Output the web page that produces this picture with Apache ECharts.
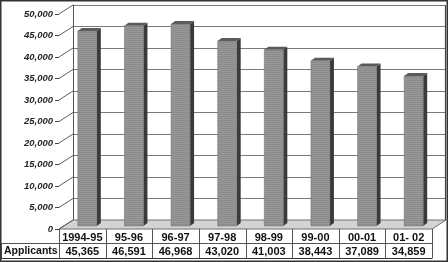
<!DOCTYPE html>
<html>
<head>
<meta charset="utf-8">
<script src="https://cdn.jsdelivr.net/npm/echarts@6/dist/echarts.min.js"></script>
<style>
  html, body { margin: 0; padding: 0; background: #fff; }
  #chart { width: 448px; height: 262px; }
</style>
</head>
<body>
<div id="chart"></div>
<script>
// 数据
const categories = ['1994-95', '95-96', '96-97', '97-98', '98-99', '99-00', '00-01', '01- 02'];
const applicants = [45365, 46591, 46968, 43020, 41003, 38443, 37089, 34859];
const rowLabel = 'Applicants';
const yMin = 0;
const yMax = 50000;
const yStep = 5000;
const yTicks = [0, 5000, 10000, 15000, 20000, 25000, 30000, 35000, 40000, 45000, 50000];

const fmt = v => v.toLocaleString('en-US');

// 3d depth of the wall / bars
const DX = 14, DY = 9;
const BAR_W = 19, BAR_DX = 4, BAR_DY = 3, BAR_SHIFT_X = 5, BAR_SHIFT_Y = 3;

// striped fill for the bar fronts
const pat = document.createElement('canvas');
pat.width = 2; pat.height = 2;
const pctx = pat.getContext('2d');
pctx.fillStyle = '#8c8c8c'; pctx.fillRect(0, 0, 2, 2);
pctx.fillStyle = '#979797'; pctx.fillRect(0, 1, 2, 1);

const chart = echarts.init(document.getElementById('chart'), null, { renderer: 'canvas' });

const lineStyle = { stroke: '#555', lineWidth: 1 };
const textFont = { fontFamily: 'Liberation Sans, Arial, sans-serif', fontWeight: 'bold', fontSize: 11, color: '#111' };

const option = {
  animation: false,
  grid: [
    { left: 59, right: 16, top: 14, bottom: 33 },   // front plane
    { left: 73, right: 2, top: 5, bottom: 42 }      // back wall
  ],
  xAxis: [
    {
      type: 'category', gridIndex: 0, data: categories,
      axisLine: { show: false }, axisTick: { show: false },
      axisLabel: { margin: 3, interval: 0, ...textFont }
    },
    {
      type: 'category', gridIndex: 0, data: applicants.map(fmt),
      position: 'bottom', offset: 14,
      axisLine: { show: false }, axisTick: { show: false },
      axisLabel: { margin: 3, interval: 0, ...textFont }
    },
    { type: 'value', gridIndex: 1, show: false, min: 0, max: 1 }
  ],
  yAxis: [
    {
      type: 'value', gridIndex: 0, min: yMin, max: yMax, interval: yStep,
      axisLine: { show: false },
      axisTick: { show: true, length: 4, lineStyle: { color: '#444' } },
      splitLine: { show: false },
      axisLabel: {
        margin: 6, formatter: v => fmt(v),
        fontFamily: 'Liberation Sans, Arial, sans-serif', fontWeight: 'bold',
        fontStyle: 'italic', fontSize: 9.5, color: '#222'
      }
    },
    {
      type: 'value', gridIndex: 1, min: yMin, max: yMax, interval: yStep,
      axisLine: { show: true, lineStyle: { color: '#555' } },
      axisTick: { show: false }, axisLabel: { show: false },
      splitLine: { show: true, lineStyle: { color: '#7a7a7a', width: 1 } }
    }
  ],
  series: [
    // floor, wall edges and data table lines
    {
      type: 'custom', xAxisIndex: 0, yAxisIndex: 0, data: [0], silent: true, z: 1,
      renderItem(params, api) {
        const cs = params.coordSys;
        const x0 = cs.x, x1 = cs.x + cs.width, yb = cs.y + cs.height, yt = cs.y;
        const band = api.size([1, 0])[0];
        const kids = [
          { type: 'polygon', shape: { points: [[x0, yb], [x1, yb], [x1 + DX, yb - DY], [x0 + DX, yb - DY]] },
            style: { fill: '#d4d4d4', stroke: '#6e6e6e', lineWidth: 1 } },
          { type: 'line', shape: { x1: x1 + DX - 0.5, y1: yt - DY, x2: x1 + DX - 0.5, y2: yb - DY }, style: { stroke: '#444', lineWidth: 1.2 } }
        ];
        const r1 = yb + 14.5, r2 = yb + 29.5;
        kids.push({ type: 'line', shape: { x1: 1, y1: r1, x2: x1, y2: r1 }, style: lineStyle });
        kids.push({ type: 'line', shape: { x1: 1, y1: r2, x2: x1, y2: r2 }, style: { stroke: '#333', lineWidth: 1.2 } });
        kids.push({ type: 'line', shape: { x1: 1.5, y1: r1, x2: 1.5, y2: r2 }, style: lineStyle });
        for (let i = 0; i <= categories.length; i++) {
          const x = Math.round(x0 + i * band) + 0.5;
          kids.push({ type: 'line', shape: { x1: x, y1: yb, x2: x, y2: r2 }, style: lineStyle });
        }
        return { type: 'group', children: kids };
      }
    },
    // side wall diagonals
    {
      type: 'custom', xAxisIndex: 0, yAxisIndex: 0, data: yTicks, silent: true, z: 2,
      renderItem(params, api) {
        const cs = params.coordSys;
        const y = api.coord([0, api.value(0)])[1];
        return { type: 'line', shape: { x1: cs.x, y1: y, x2: cs.x + DX, y2: y - DY },
          style: { stroke: '#5e5e5e', lineWidth: 1 } };
      },
      encode: { y: 0 }
    },
    // 3d bars
    {
      type: 'custom', xAxisIndex: 0, yAxisIndex: 0, z: 5,
      data: applicants.map((v, i) => [i, v]),
      encode: { x: 0, y: 1 },
      renderItem(params, api) {
        const top = api.coord([api.value(0), api.value(1)]);
        const base = api.coord([api.value(0), 0]);
        const x = top[0] + BAR_SHIFT_X - BAR_W / 2;
        const yt = top[1] - BAR_SHIFT_Y, yb = base[1] - BAR_SHIFT_Y;
        return {
          type: 'group',
          children: [
            { type: 'polygon', shape: { points: [[x + BAR_W, yt], [x + BAR_W + BAR_DX, yt - BAR_DY], [x + BAR_W + BAR_DX, yb - BAR_DY], [x + BAR_W, yb]] },
              style: { fill: '#3a3a3a' } },
            { type: 'polygon', shape: { points: [[x, yt], [x + BAR_DX, yt - BAR_DY], [x + BAR_W + BAR_DX, yt - BAR_DY], [x + BAR_W, yt]] },
              style: { fill: '#5a5a5a' } },
            { type: 'rect', shape: { x: x, y: yt, width: BAR_W, height: yb - yt },
              style: { fill: { image: pat, repeat: 'repeat' }, stroke: '#6a6a6a', lineWidth: 0.5 } }
          ]
        };
      }
    }
  ],
  graphic: [
    { type: 'text', x: 4, y: 251.5, style: { text: rowLabel, font: 'bold 10.5px "Liberation Sans", Arial, sans-serif', fill: '#111', verticalAlign: 'middle' } },
    { type: 'rect', shape: { x: 0.75, y: 0.75, width: 446.5, height: 260.5 }, style: { fill: 'none', stroke: '#333', lineWidth: 1.5 }, z: 10 }
  ]
};

chart.setOption(option);
</script>
</body>
</html>
